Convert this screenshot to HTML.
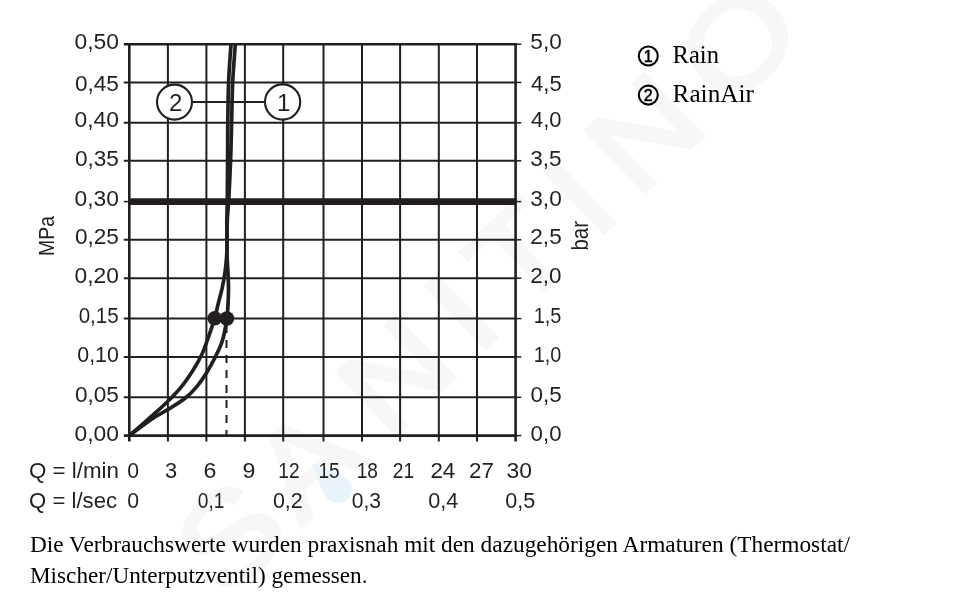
<!DOCTYPE html>
<html lang="de"><head><meta charset="utf-8"><title>Durchflussdiagramm</title>
<style>
html,body{margin:0;padding:0;background:#fff;}
body{width:960px;height:612px;overflow:hidden;position:relative;}
svg{position:absolute;left:0;top:0;display:block;}
.s{font-family:"Liberation Sans",sans-serif;font-size:22.8px;fill:#231f20;}
.t{font-family:"Liberation Serif",serif;fill:#000;}
</style></head><body>
<svg width="960" height="612" viewBox="0 0 960 612">
<rect width="960" height="612" fill="#fff"/>
<g transform="translate(768,73) rotate(-44.2) translate(-491.5,0) scale(1.15,1)"><text y="0" x="-230 -138 -32.6 74.1 125.1 217.5 269.2 379.1" font-family="Liberation Sans,sans-serif" font-size="124" fill="#f7f7f7" stroke="#f7f7f7" stroke-width="4">SANITINO</text></g>
<path transform="translate(336.5,487.75) rotate(-45)" d="M0 -34 C6 -21 14 -8 14 2 A14 14 0 0 1 -14 2 C-14 -8 -6 -21 0 -34Z" fill="#e8f3fa"/>
<g stroke="#231f20" fill="none">
<line x1="129.3" y1="43.0" x2="129.3" y2="441.6" stroke-width="2.6"/>
<line x1="167.9" y1="44.3" x2="167.9" y2="441.6" stroke-width="2"/>
<line x1="206.4" y1="44.3" x2="206.4" y2="441.6" stroke-width="2"/>
<line x1="244.9" y1="44.3" x2="244.9" y2="441.6" stroke-width="2"/>
<line x1="283.2" y1="44.3" x2="283.2" y2="441.6" stroke-width="2"/>
<line x1="323.5" y1="44.3" x2="323.5" y2="441.6" stroke-width="2"/>
<line x1="362.0" y1="44.3" x2="362.0" y2="441.6" stroke-width="2"/>
<line x1="400.1" y1="44.3" x2="400.1" y2="441.6" stroke-width="2"/>
<line x1="438.8" y1="44.3" x2="438.8" y2="441.6" stroke-width="2"/>
<line x1="477.0" y1="44.3" x2="477.0" y2="441.6" stroke-width="2"/>
<line x1="515.6" y1="43.0" x2="515.6" y2="441.6" stroke-width="2.6"/>
<line x1="123.8" y1="44.2" x2="515.6" y2="44.2" stroke-width="2.6"/>
<line x1="515.6" y1="44.2" x2="521.3" y2="44.2" stroke-width="1.5"/>
<line x1="123.8" y1="82.4" x2="515.6" y2="82.4" stroke-width="2"/>
<line x1="515.6" y1="82.4" x2="521.3" y2="82.4" stroke-width="1.5"/>
<line x1="123.8" y1="122.8" x2="515.6" y2="122.8" stroke-width="2"/>
<line x1="515.6" y1="122.8" x2="521.3" y2="122.8" stroke-width="1.5"/>
<line x1="123.8" y1="160.8" x2="515.6" y2="160.8" stroke-width="2"/>
<line x1="515.6" y1="160.8" x2="521.3" y2="160.8" stroke-width="1.5"/>
<line x1="129.3" y1="201.6" x2="515.6" y2="201.6" stroke-width="2"/>
<line x1="515.6" y1="201.6" x2="521.3" y2="201.6" stroke-width="1.5"/>
<line x1="123.8" y1="201.6" x2="129.3" y2="201.6" stroke-width="1.5"/>
<line x1="123.8" y1="239.8" x2="515.6" y2="239.8" stroke-width="2"/>
<line x1="515.6" y1="239.8" x2="521.3" y2="239.8" stroke-width="1.5"/>
<line x1="123.8" y1="278.2" x2="515.6" y2="278.2" stroke-width="2"/>
<line x1="515.6" y1="278.2" x2="521.3" y2="278.2" stroke-width="1.5"/>
<line x1="123.8" y1="318.6" x2="515.6" y2="318.6" stroke-width="2"/>
<line x1="515.6" y1="318.6" x2="521.3" y2="318.6" stroke-width="1.5"/>
<line x1="123.8" y1="356.9" x2="515.6" y2="356.9" stroke-width="2"/>
<line x1="515.6" y1="356.9" x2="521.3" y2="356.9" stroke-width="1.5"/>
<line x1="123.8" y1="397.3" x2="515.6" y2="397.3" stroke-width="2"/>
<line x1="515.6" y1="397.3" x2="521.3" y2="397.3" stroke-width="1.5"/>
<line x1="123.8" y1="435.6" x2="515.6" y2="435.6" stroke-width="2.6"/>
<line x1="515.6" y1="435.6" x2="521.3" y2="435.6" stroke-width="1.5"/>
<line x1="129.3" y1="201.6" x2="515.6" y2="201.6" stroke-width="6.8"/>
</g>
<g stroke="#231f20" fill="none" stroke-width="3.7" stroke-linecap="butt" stroke-linejoin="round">
<path d="M129.8 435.2 C133.6 432.4 146.4 422.6 152.7 418.4 C159.0 414.2 161.9 413.3 167.4 409.9 C172.9 406.5 180.5 401.9 185.4 398.0 C190.3 394.1 193.3 390.8 196.8 386.6 C200.3 382.4 203.6 377.5 206.6 372.7 C209.6 367.9 212.1 363.4 214.8 358.0 C217.5 352.6 220.6 346.6 222.6 340.0 C224.6 333.4 226.0 324.5 226.9 318.6 C227.8 312.7 227.7 309.5 228.0 304.5 C228.3 299.5 228.5 294.0 228.5 288.8 C228.5 283.6 228.2 278.0 228.0 273.1 C227.8 268.2 227.4 263.8 227.2 259.4 C227.0 255.0 227.0 253.2 227.0 247.0 C227.0 240.8 226.9 229.8 227.2 222.0 C227.5 214.2 228.1 210.3 228.7 200.0 C229.3 189.7 230.1 173.3 230.6 160.0 C231.1 146.7 231.3 133.0 231.7 120.0 C232.0 107.0 232.1 94.6 232.7 82.0 C233.3 69.4 234.9 50.6 235.3 44.3"/>
<path d="M129.8 435.2 C133.1 432.4 143.1 423.7 149.4 418.1 C155.7 412.5 162.0 407.2 167.4 401.8 C172.8 396.4 177.8 391.2 182.1 385.8 C186.4 380.4 190.2 374.6 193.5 369.4 C196.8 364.2 199.4 359.6 201.7 354.7 C204.0 349.8 205.2 346.1 207.4 340.0 C209.6 333.9 212.9 324.1 214.7 318.2 C216.5 312.3 216.8 309.4 218.0 304.5 C219.2 299.6 220.8 294.0 222.0 288.8 C223.2 283.6 224.2 278.0 224.9 273.1 C225.6 268.2 226.1 263.8 226.4 259.4 C226.8 255.0 226.9 253.2 227.0 247.0 C227.1 240.8 226.8 229.8 226.8 222.0 C226.9 214.2 227.2 210.3 227.3 200.0 C227.4 189.7 227.5 173.3 227.6 160.0 C227.7 146.7 227.6 133.0 227.8 120.0 C228.0 107.0 228.1 94.6 228.6 82.0 C229.1 69.4 230.6 50.6 231.0 44.3"/>
</g>
<line x1="226.5" y1="325" x2="226.5" y2="435" stroke="#231f20" stroke-width="2" stroke-dasharray="8 7"/>
<circle cx="214.7" cy="318.3" r="7.3" fill="#231f20"/><circle cx="226.9" cy="318.5" r="7.3" fill="#231f20"/>
<line x1="192" y1="102" x2="265" y2="102" stroke="#231f20" stroke-width="1.9"/>
<circle cx="174.5" cy="102.1" r="17.5" fill="#fff" stroke="#231f20" stroke-width="2.1"/><circle cx="282.6" cy="102" r="17.6" fill="#fff" stroke="#231f20" stroke-width="2.1"/>
<text class="s" x="175.6" y="110.6" text-anchor="middle" style="font-size:24px">2</text><text class="s" x="283.6" y="110.6" text-anchor="middle" style="font-size:24px">1</text>
<text class="s" x="74.56" y="48.5" textLength="44.43" lengthAdjust="spacingAndGlyphs">0,50</text>
<text class="s" x="530.34" y="48.5" textLength="31.42" lengthAdjust="spacingAndGlyphs">5,0</text>
<text class="s" x="74.89" y="90.6" textLength="44.05" lengthAdjust="spacingAndGlyphs">0,45</text>
<text class="s" x="531.04" y="90.6" textLength="30.69" lengthAdjust="spacingAndGlyphs">4,5</text>
<text class="s" x="74.56" y="127.3" textLength="44.43" lengthAdjust="spacingAndGlyphs">0,40</text>
<text class="s" x="531.05" y="127.3" textLength="30.54" lengthAdjust="spacingAndGlyphs">4,0</text>
<text class="s" x="74.89" y="165.5" textLength="44.05" lengthAdjust="spacingAndGlyphs">0,35</text>
<text class="s" x="530.28" y="165.5" textLength="31.40" lengthAdjust="spacingAndGlyphs">3,5</text>
<text class="s" x="74.56" y="206.4" textLength="44.43" lengthAdjust="spacingAndGlyphs">0,30</text>
<text class="s" x="530.28" y="206.4" textLength="31.51" lengthAdjust="spacingAndGlyphs">3,0</text>
<text class="s" x="74.89" y="244.4" textLength="44.05" lengthAdjust="spacingAndGlyphs">0,25</text>
<text class="s" x="530.30" y="244.4" textLength="31.44" lengthAdjust="spacingAndGlyphs">2,5</text>
<text class="s" x="74.56" y="282.6" textLength="44.43" lengthAdjust="spacingAndGlyphs">0,20</text>
<text class="s" x="530.33" y="282.6" textLength="31.25" lengthAdjust="spacingAndGlyphs">2,0</text>
<text class="s" x="78.66" y="323.4" textLength="40.04" lengthAdjust="spacingAndGlyphs">0,15</text>
<text class="s" x="533.77" y="323.4" textLength="27.69" lengthAdjust="spacingAndGlyphs">1,5</text>
<text class="s" x="77.29" y="361.5" textLength="41.58" lengthAdjust="spacingAndGlyphs">0,10</text>
<text class="s" x="533.82" y="361.5" textLength="27.55" lengthAdjust="spacingAndGlyphs">1,0</text>
<text class="s" x="74.89" y="402.0" textLength="44.05" lengthAdjust="spacingAndGlyphs">0,05</text>
<text class="s" x="530.53" y="402.0" textLength="31.26" lengthAdjust="spacingAndGlyphs">0,5</text>
<text class="s" x="74.56" y="440.8" textLength="44.43" lengthAdjust="spacingAndGlyphs">0,00</text>
<text class="s" x="530.61" y="440.8" textLength="30.94" lengthAdjust="spacingAndGlyphs">0,0</text>
<text class="s" x="127.23" y="477.5" textLength="11.79" lengthAdjust="spacingAndGlyphs">0</text>
<text class="s" x="165.03" y="477.5" textLength="12.15" lengthAdjust="spacingAndGlyphs">3</text>
<text class="s" x="203.54" y="477.5" textLength="12.90" lengthAdjust="spacingAndGlyphs">6</text>
<text class="s" x="242.52" y="477.5" textLength="12.86" lengthAdjust="spacingAndGlyphs">9</text>
<text class="s" x="278.30" y="477.5" textLength="21.30" lengthAdjust="spacingAndGlyphs">12</text>
<text class="s" x="318.48" y="477.5" textLength="21.30" lengthAdjust="spacingAndGlyphs">15</text>
<text class="s" x="356.70" y="477.5" textLength="21.30" lengthAdjust="spacingAndGlyphs">18</text>
<text class="s" x="392.87" y="477.5" textLength="21.30" lengthAdjust="spacingAndGlyphs">21</text>
<text class="s" x="430.40" y="477.5" textLength="24.87" lengthAdjust="spacingAndGlyphs">24</text>
<text class="s" x="469.05" y="477.5" textLength="24.84" lengthAdjust="spacingAndGlyphs">27</text>
<text class="s" x="506.64" y="477.5" textLength="25.45" lengthAdjust="spacingAndGlyphs">30</text>
<text class="s" x="127.23" y="508.0" textLength="11.79" lengthAdjust="spacingAndGlyphs">0</text>
<text class="s" x="197.79" y="508.0" textLength="26.62" lengthAdjust="spacingAndGlyphs">0,1</text>
<text class="s" x="272.89" y="508.0" textLength="29.91" lengthAdjust="spacingAndGlyphs">0,2</text>
<text class="s" x="351.72" y="508.0" textLength="29.27" lengthAdjust="spacingAndGlyphs">0,3</text>
<text class="s" x="428.22" y="508.0" textLength="30.11" lengthAdjust="spacingAndGlyphs">0,4</text>
<text class="s" x="505.18" y="508.0" textLength="30.01" lengthAdjust="spacingAndGlyphs">0,5</text>
<text class="s" x="29.03" y="477.6" textLength="89.91" lengthAdjust="spacingAndGlyphs">Q = l/min</text>
<text class="s" x="29.08" y="508.0" textLength="88.01" lengthAdjust="spacingAndGlyphs">Q = l/sec</text>
<text class="s" transform="translate(53.9,255.9) rotate(-90)" textLength="40" lengthAdjust="spacingAndGlyphs">MPa</text>
<text class="s" transform="translate(587.7,250.5) rotate(-90)" textLength="29.5" lengthAdjust="spacingAndGlyphs" style="font-size:24px">bar</text>
<circle cx="648.3" cy="56" r="9.5" fill="none" stroke="#000" stroke-width="2.1"/><circle cx="648.3" cy="95.1" r="9.5" fill="none" stroke="#000" stroke-width="2.1"/>
<text x="648.1" y="61.8" text-anchor="middle" font-family="Liberation Sans,sans-serif" font-size="16" fill="#000" stroke="#000" stroke-width="0.5">1</text><text x="648.3" y="100.9" text-anchor="middle" font-family="Liberation Sans,sans-serif" font-size="16" fill="#000" stroke="#000" stroke-width="0.5">2</text>
<text class="t" x="672.6" y="62.5" font-size="24.5" textLength="46.3" lengthAdjust="spacingAndGlyphs">Rain</text>
<text class="t" x="672.6" y="101.7" font-size="24.5" textLength="81.3" lengthAdjust="spacingAndGlyphs">RainAir</text>
<text class="t" x="30" y="551.7" font-size="23" textLength="820" lengthAdjust="spacingAndGlyphs">Die Verbrauchswerte wurden praxisnah mit den dazugehörigen Armaturen (Thermostat/</text>
<text class="t" x="30" y="582.5" font-size="23" textLength="337.5" lengthAdjust="spacingAndGlyphs">Mischer/Unterputzventil) gemessen.</text>
</svg></body></html>
